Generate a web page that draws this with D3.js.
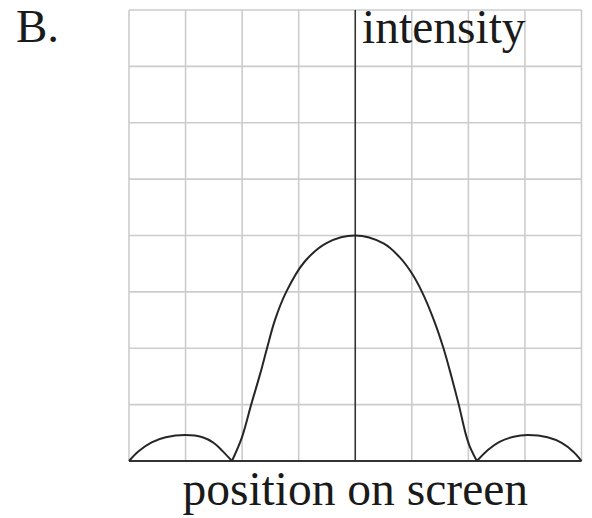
<!DOCTYPE html>
<html>
<head>
<meta charset="utf-8">
<script src="https://cdn.jsdelivr.net/npm/d3@7"></script>
<style>
  html, body { margin: 0; padding: 0; background: #fff; }
  svg { display: block; }
  text { font-family: "Liberation Serif", "Times New Roman", serif; fill: #1a1a1a; }
</style>
</head>
<body>
<svg id="chart" width="592" height="518"></svg>
<script>
// Grid ticks (in grid units)
const xTicks = [-4, -3, -2, -1, 0, 1, 2, 3, 4];
const yTicks = [0, 1, 2, 3, 4, 5, 6, 7, 8];

// Curve: [position, intensity] in grid units
const leftLobe = [[-4, 0], [-3.82, 0.18], [-3.6, 0.33], [-3.35, 0.42], [-3.0, 0.46], [-2.7, 0.42], [-2.5, 0.32], [-2.35, 0.18], [-2.18, 0]];
const centralLobe = [[-2.18, 0], [-2.01, 0.4], [-1.84, 1], [-1.68, 1.55], [-1.56, 2], [-1.42, 2.5], [-1.22, 3], [-0.9, 3.53], [-0.5, 3.87], [0, 4],
                     [0.5, 3.86], [0.78, 3.62], [1.0, 3.33], [1.18, 3], [1.39, 2.5], [1.56, 2], [1.70, 1.5], [1.83, 1], [1.95, 0.49], [2.02, 0.27], [2.15, 0]];
const rightLobe = [[2.15, 0], [2.35, 0.2], [2.55, 0.34], [2.8, 0.43], [3.05, 0.46], [3.4, 0.42], [3.65, 0.32], [3.86, 0.16], [4, 0]];

const panelLabel = "B.";
const yLabel = "intensity";
const xLabel = "position on screen";

const svg = d3.select("#chart");
const x = d3.scaleLinear().domain([-4, 4]).range([129, 581.5]);
const y = d3.scaleLinear().domain([0, 8]).range([461, 10]);

// grid
const grid = svg.append("g");
grid.selectAll("line.v").data(xTicks.filter(d => d !== 0)).join("line")
  .attr("x1", d => x(d)).attr("x2", d => x(d))
  .attr("y1", y(8)).attr("y2", y(0))
  .attr("stroke", "#cccccc").attr("stroke-width", 1.6);
grid.selectAll("line.h").data(yTicks.filter(d => d !== 0)).join("line")
  .attr("x1", x(-4)).attr("x2", x(4))
  .attr("y1", d => y(d)).attr("y2", d => y(d))
  .attr("stroke", "#cccccc").attr("stroke-width", 1.6);

// axes
svg.append("line")
  .attr("x1", x(0)).attr("x2", x(0)).attr("y1", y(8)).attr("y2", y(0))
  .attr("stroke", "#333").attr("stroke-width", 1.6);
svg.append("line")
  .attr("x1", x(-4)).attr("x2", x(4)).attr("y1", y(0)).attr("y2", y(0))
  .attr("stroke", "#333").attr("stroke-width", 2);

// curve
const line = d3.line().x(d => x(d[0])).y(d => y(d[1])).curve(d3.curveCatmullRom.alpha(0.5));
[leftLobe, centralLobe, rightLobe].forEach(seg => {
  svg.append("path").attr("d", line(seg))
    .attr("fill", "none").attr("stroke", "#262626").attr("stroke-width", 2)
    .attr("stroke-linejoin", "round");
});

// labels
svg.append("text").attr("x", 16).attr("y", 42).attr("font-size", 47).text(panelLabel);
svg.append("text").attr("x", 362).attr("y", 43).attr("font-size", 47.5).text(yLabel);
svg.append("text").attr("x", x(0)).attr("y", 505).attr("font-size", 47.5)
  .attr("text-anchor", "middle").text(xLabel);
</script>
</body>
</html>
